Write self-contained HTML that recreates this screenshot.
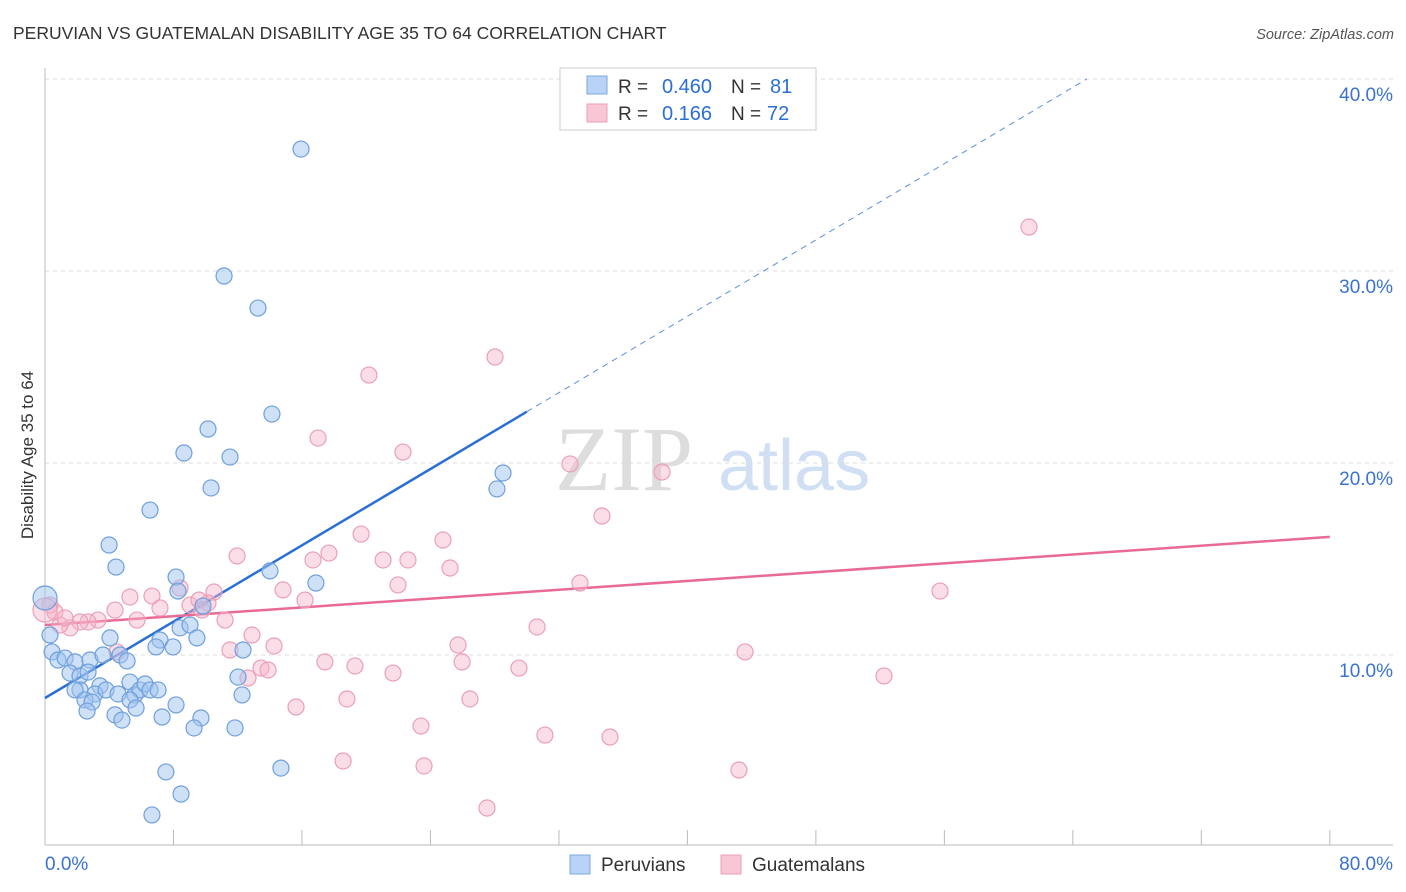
<!DOCTYPE html>
<html><head><meta charset="utf-8"><style>
body{margin:0;background:#fff;font-family:"Liberation Sans",sans-serif;}
svg{display:block}
</style></head><body>
<svg id="chart" width="1406" height="892" xmlns="http://www.w3.org/2000/svg">
<text x="13" y="39" font-size="17.5" fill="#333">PERUVIAN VS GUATEMALAN DISABILITY AGE 35 TO 64 CORRELATION CHART</text>
<text x="1394" y="39" font-size="14.5" fill="#555" font-style="italic" text-anchor="end">Source: ZipAtlas.com</text>
<g><text x="555" y="490" font-size="92" fill="#ddd" font-family="Liberation Serif,serif">ZIP</text><text x="718" y="490" font-size="72" fill="#d0dff3">atlas</text></g>
<g id="grid"></g><g id="axes"></g><g id="lines"></g><g id="pts"></g>
<text transform="translate(33,455) rotate(-90)" font-size="17" fill="#333" text-anchor="middle">Disability Age 35 to 64</text>
<g>
<rect x="560" y="68" width="256" height="62" fill="#fff" stroke="#ccc"/>
<rect x="587" y="76" width="20" height="18" fill="#b8d3f5" stroke="#7aa9e0"/>
<rect x="587" y="104" width="20" height="18" fill="#f9c6d6" stroke="#eaa0b8"/>
<text x="618" y="93" font-size="19" fill="#333">R =</text>
<text x="712" y="93" font-size="20" fill="#2a6fd6" text-anchor="end">0.460</text>
<text x="731" y="93" font-size="19" fill="#333">N =</text>
<text x="770" y="93" font-size="20" fill="#2a6fd6">81</text>
<text x="618" y="120" font-size="19" fill="#333">R =</text>
<text x="712" y="120" font-size="20" fill="#2a6fd6" text-anchor="end">0.166</text>
<text x="731" y="120" font-size="19" fill="#333">N =</text>
<text x="767" y="120" font-size="20" fill="#2a6fd6">72</text>
</g>
<g>
<rect x="570" y="855" width="20" height="19" fill="#b8d3f5" stroke="#7aa9e0"/>
<text x="601" y="871" font-size="19" fill="#333">Peruvians</text>
<rect x="721" y="855" width="20" height="19" fill="#f9c6d6" stroke="#eaa0b8"/>
<text x="752" y="871" font-size="19" fill="#333">Guatemalans</text>
</g>
</svg>
<script>
const xTicks=[0,8,16,24,32,40,48,56,64,72,80];
const yTicks=[10,20,30,40];
const yTickLabels=["10.0%","20.0%","30.0%","40.0%"];
const xEndLabels=["0.0%","80.0%"];
const peruX=[15.94,11.15,13.26,14.13,10.15,8.65,11.52,10.34,28.52,28.14,6.54,3.99,4.42,8.16,8.28,14.01,16.87,9.84,8.41,9.03,7.16,9.46,7.97,6.91,4.05,0,0.31,0.44,0.81,1.25,1.87,2.80,3.61,4.67,5.11,1.56,2.18,2.68,3.42,2.18,3.11,1.87,2.49,2.93,3.80,4.55,5.29,5.60,5.92,6.23,6.54,7.04,5.29,5.67,4.36,4.79,2.62,7.29,8.16,9.71,9.28,11.83,12.27,12.02,12.33,7.53,8.47,6.66,14.69];
const peruY=[36.35,29.74,28.07,22.55,21.77,20.52,20.31,18.70,19.48,18.65,17.55,15.73,14.58,14.06,13.33,14.38,13.75,12.55,11.41,11.56,10.78,10.89,10.42,10.42,10.89,12.97,11.04,10.16,9.74,9.84,9.64,9.74,10.0,10.0,9.69,9.06,8.91,9.11,8.39,8.18,7.97,8.18,7.66,7.55,8.18,7.97,8.59,7.92,8.18,8.49,8.18,8.18,7.66,7.24,6.88,6.61,7.08,6.77,7.40,6.72,6.20,6.20,7.92,8.85,10.26,3.91,2.76,1.67,4.11];
const guatX=[61.27,28.02,20.17,17.0,22.29,32.69,38.42,34.68,19.68,24.78,11.96,17.68,16.69,21.05,22.60,25.22,33.31,21.98,14.82,55.73,16.19,10.52,6.66,8.41,10.15,9.03,11.21,7.16,5.29,4.36,5.73,3.30,2.68,2.18,1.56,0.62,0.93,1.25,0.31,0,30.64,12.89,14.26,11.52,25.72,4.48,43.59,17.43,19.30,25.97,29.51,13.45,13.89,21.67,52.24,12.64,18.80,26.46,15.63,23.41,31.13,35.18,18.56,23.60,43.21,27.52,9.59,9.78];
const guatY=[32.29,25.52,24.58,21.30,20.57,19.95,19.53,17.24,16.30,15.99,15.16,15.31,14.95,14.95,14.95,14.53,13.75,13.65,13.39,13.33,12.86,13.28,13.07,13.49,12.71,12.60,11.82,12.45,13.02,12.34,11.82,11.82,11.72,11.72,11.41,12.24,11.56,11.93,12.60,12.34,11.46,11.04,10.47,10.26,10.52,10.16,10.16,9.64,9.43,9.64,9.32,9.32,9.22,9.06,8.91,8.80,7.71,7.71,7.29,6.30,5.83,5.73,4.48,4.22,4.01,2.03,12.86,12.34];
const peruTrend=[7.76,0.497];
const guatTrend=[11.56,0.0574];
const NS="http://www.w3.org/2000/svg";
const xs=v=>45+v*16.06, ys=v=>847-v*19.2;
function mk(p,tag,at){const e=document.createElementNS(NS,tag);for(const k in at)e.setAttribute(k,at[k]);document.getElementById(p).appendChild(e);return e;}
yTicks.forEach((t,i)=>{
 const g=mk('grid','line',{x1:45,x2:1393,y1:ys(t),y2:ys(t),stroke:'#ddd','stroke-dasharray':'4,4'});
 
 
 const l=mk('axes','text',{x:1393,y:ys(t)+22,'text-anchor':'end','font-size':19,fill:'#3a72d0'});l.textContent=yTickLabels[i];
 
 
});
const ax=mk('axes','line',{x1:45,x2:45,y1:68,y2:845,stroke:'#bbb'});


const bx=mk('axes','line',{x1:45,x2:1393,y1:845,y2:845,stroke:'#bbb'});


xTicks.forEach(t=>{if(t===0)return;const k=mk('axes','line',{x1:xs(t),x2:xs(t),y1:830,y2:845,stroke:'#bbb'});
 
 });
const l0=mk('axes','text',{x:45,y:870,'font-size':19,fill:'#3a72d0'});l0.textContent=xEndLabels[0];


const l1=mk('axes','text',{x:1393,y:870,'font-size':19,fill:'#3a72d0','text-anchor':'end'});l1.textContent=xEndLabels[1];


function pts(X,Y,fill,stroke,name){X.forEach((x,i)=>{const c=mk('pts','circle',{cx:xs(x),cy:ys(Y[i]),r:(x===0?12:8),fill:fill,stroke:stroke,'stroke-width':1.2});
 
 });}
pts(guatX,guatY,'rgba(246,180,202,0.45)','#e9a0b8','guatemalan-point');
pts(peruX,peruY,'rgba(160,196,240,0.5)','#6f9fdc','peruvian-point');
const tb=mk('lines','line',{x1:xs(0),y1:ys(peruTrend[0]),x2:xs(30),y2:ys(peruTrend[0]+peruTrend[1]*30),stroke:'#2a6fd6','stroke-width':2.5});


const xe=(40-peruTrend[0])/peruTrend[1];
const td=mk('lines','line',{x1:xs(30),y1:ys(peruTrend[0]+peruTrend[1]*30),x2:xs(xe),y2:ys(40),stroke:'#5b8fdc','stroke-width':1,'stroke-dasharray':'6,5'});


const tp=mk('lines','line',{x1:xs(0),y1:ys(guatTrend[0]),x2:xs(80),y2:ys(guatTrend[0]+guatTrend[1]*80),stroke:'#e86a95','stroke-width':2.5});


</script>
</body></html>
